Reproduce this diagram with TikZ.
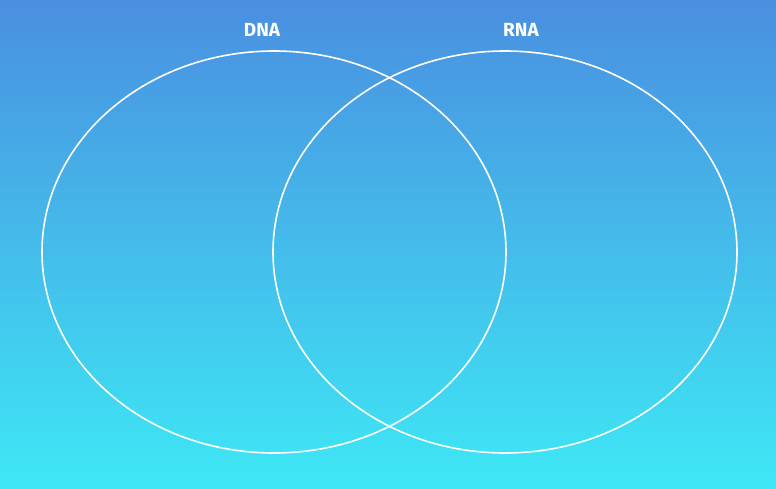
\documentclass[tikz,border=0pt]{standalone}
\usepackage{fontspec}
\setmainfont{Fira Sans}
\definecolor{topc}{RGB}{74,143,224}
\definecolor{botc}{RGB}{62,232,245}
\begin{document}
\begin{tikzpicture}[x=1pt,y=-1pt,
  ring/.style={draw=white,line width=1.6pt},
  lbl/.style={text=white,font=\bfseries\fontsize{19}{22}\selectfont}]
\shade[top color=topc,bottom color=botc] (0,0) rectangle (776,489);
\useasboundingbox (0,0) rectangle (776,489);
\draw[ring] (274,252) ellipse [x radius=232,y radius=201];
\draw[ring] (505,252) ellipse [x radius=232,y radius=201];
\node[lbl] (dna) at (262,30) {DNA};
\node[lbl] (rna) at (521,30) {RNA};
\end{tikzpicture}
\end{document}
